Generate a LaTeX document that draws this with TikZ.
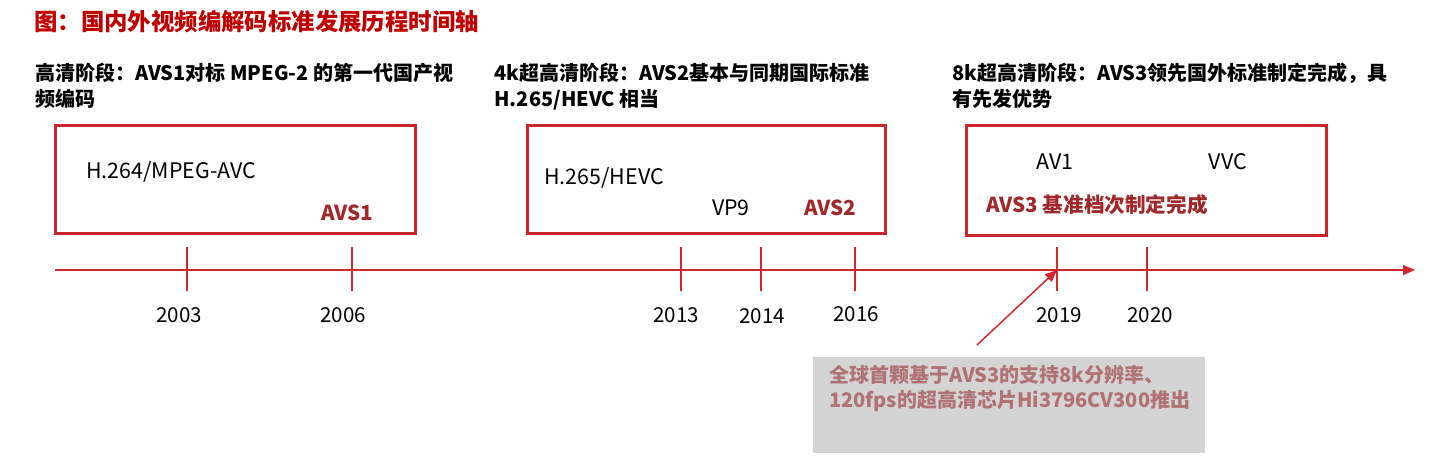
\documentclass[tikz,border=0pt]{standalone}
\usepackage{fontspec}
\setmainfont{Noto Sans CJK SC}
\usetikzlibrary{arrows.meta,positioning,calc}
\definecolor{titlered}{HTML}{C00000}
\definecolor{boxred}{HTML}{C8262C}
\definecolor{axisred}{HTML}{D0282E}
\definecolor{avsred}{HTML}{A0282A}
\definecolor{notegray}{HTML}{D4D4D4}
\definecolor{notetext}{HTML}{B07272}
\tikzset{
  phase/.style={anchor=north west,align=left,inner sep=0pt,
    font=\fontsize{10}{12.6}\selectfont\bfseries},
  erabox/.style={draw=boxred,line width=1.25pt,anchor=north west,
    minimum width=180pt,minimum height=54pt,inner sep=0pt},
  codec/.style={inner sep=0pt,font=\fontsize{10.7}{12}\selectfont},
  avs/.style={inner sep=0pt,text=avsred,font=\fontsize{10.3}{12}\selectfont\bfseries},
  year/.style={inner sep=0pt,font=\fontsize{10.3}{12}\selectfont},
  tick/.style={axisred,line width=0.6pt},
}
\begin{document}
\begin{tikzpicture}[x=0.5pt,y=-0.5pt]
  \useasboundingbox (0,0) rectangle (1448,466);
  % 标题
  \node[anchor=west,inner sep=0pt,text=titlered,font=\fontsize{11.7}{13}\selectfont\bfseries]
    (title) at (34,22) {图：国内外视频编解码标准发展历程时间轴};
  % 三个阶段
  \node[phase] (ph1) at (35,63) {高清阶段：AVS1对标 MPEG-2 的第一代国产视\\频编码};
  \node[phase] (ph2) at (494,63) {4k超高清阶段：AVS2基本与同期国际标准\\H.265/HEVC 相当};
  \node[phase] (ph3) at (952,63) {8k超高清阶段：AVS3领先国外标准制定完成，具\\有先发优势};
  \node[erabox] (box1) at (54,124) {};
  \node[erabox,minimum width=179pt] (box2) at (526,124) {};
  \node[erabox,minimum height=55pt] (box3) at (965,124) {};
  % 框内标准
  \node[codec,anchor=west] (h264) at (86,172) {H.264/MPEG-AVC};
  \node[avs] (avs1) at (347,213) {AVS1};
  \node[codec,anchor=west] (h265) at (544,178) {H.265/HEVC};
  \node[codec] (vp9) at (731,208) {VP9};
  \node[avs] (avs2) at (830,208) {AVS2};
  \node[codec] (av1) at (1055,162) {AV1};
  \node[codec] (vvc) at (1228,162) {VVC};
  \node[avs,anchor=west] (avs3) at (986,205) {AVS3 基准档次制定完成};
  % 时间轴
  \coordinate (axstart) at (55,270);
  \coordinate (axend) at (1415,270);
  \draw[axisred,line width=0.75pt,-{Triangle[length=6pt,width=5pt]}] (axstart) -- (axend);
  \foreach \x/\name in {187/t03,352/t06,681/t13,761/t14,855/t16,1057/t19,1147/t20}{
    \coordinate (\name) at (\x,270);
    \draw[tick] (\x,247) -- (\x,291);
  }
  \node[year] (y03) at (179,315) {2003};
  \node[year] (y06) at (343,315) {2006};
  \node[year] (y13) at (676,315) {2013};
  \node[year] (y14) at (762,316) {2014};
  \node[year] (y16) at (856,314) {2016};
  \node[year] (y19) at (1059,315) {2019};
  \node[year] (y20) at (1150,315) {2020};
  % 芯片说明
  \node[fill=notegray,anchor=north west,minimum width=196pt,minimum height=48pt,inner sep=0pt]
    (note) at (813,357) {};
  \node[anchor=north west,align=left,inner sep=0pt,text=notetext,
    font=\fontsize{10}{12.6}\selectfont\bfseries]
    (notetxt) at ($(note.north west)+(16,8)$) {全球首颗基于AVS3的支持8k分辨率、\\120fps的超高清芯片Hi3796CV300推出};
  \coordinate (foot) at ($(note.north west)+(164,-12)$);
  \draw[axisred,line width=0.75pt,-{Triangle[length=6pt,width=5pt]}] (foot) -- (t19);
\end{tikzpicture}
\end{document}
